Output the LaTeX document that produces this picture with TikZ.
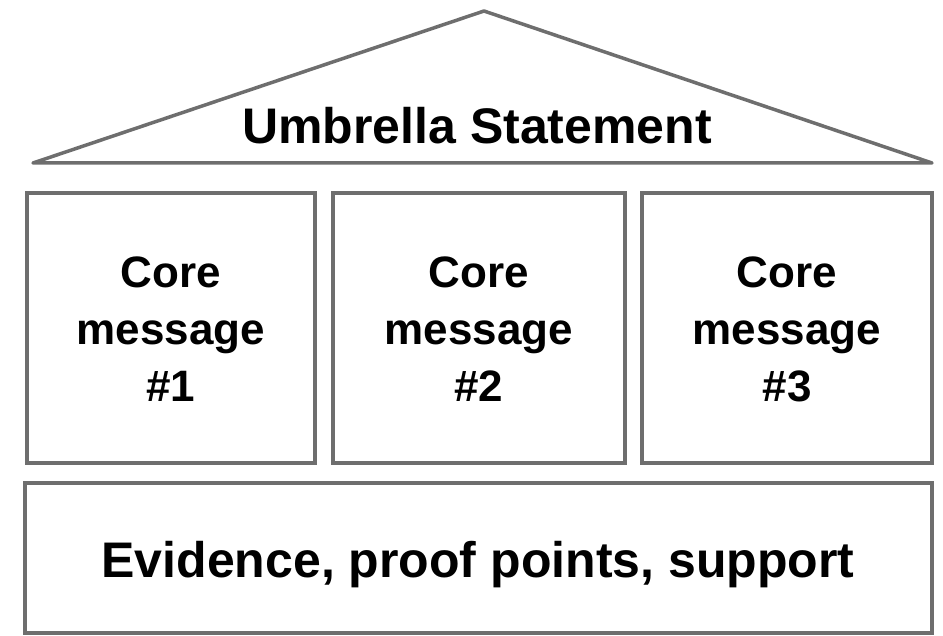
\documentclass[tikz,border=0pt]{standalone}
\usepackage{fontspec}
\setmainfont{Liberation Sans}
\definecolor{edge}{HTML}{6E6E6E}
\begin{document}
\begin{tikzpicture}[x=1pt,y=-1pt,
  boxshape/.style={draw=edge,line width=3.5pt,fill=white},
  lbl/.style={font=\fontsize{50}{57.5}\selectfont\bfseries,align=center,anchor=base,inner sep=0pt},
  corelbl/.style={lbl,font=\fontsize{44}{57.5}\selectfont\bfseries}]
\useasboundingbox (0,0) rectangle (943,636);
% roof
\coordinate (apex) at (484,11);
\coordinate (bl) at (33,163);
\coordinate (br) at (932,163);
\draw[edge,line width=3.5pt,line join=round] (bl) -- (apex) -- (br) -- cycle;
\node[lbl] (umb) at (477,144) {Umbrella Statement};
% pillars
\draw[boxshape] (27,193) rectangle (315,463);
\draw[boxshape] (333,193) rectangle (625,463);
\draw[boxshape] (642,193) rectangle (932,463);
\node[corelbl] (c1) at (171,402) {Core\\message\\\#1};
\node[corelbl] (c2) at (479,402) {Core\\message\\\#2};
\node[corelbl] (c3) at (787,402) {Core\\message\\\#3};
% base
\draw[boxshape] (25,483) rectangle (932,633);
\node[lbl] (ev) at (478,577) {Evidence, proof points, support};
\end{tikzpicture}
\end{document}
